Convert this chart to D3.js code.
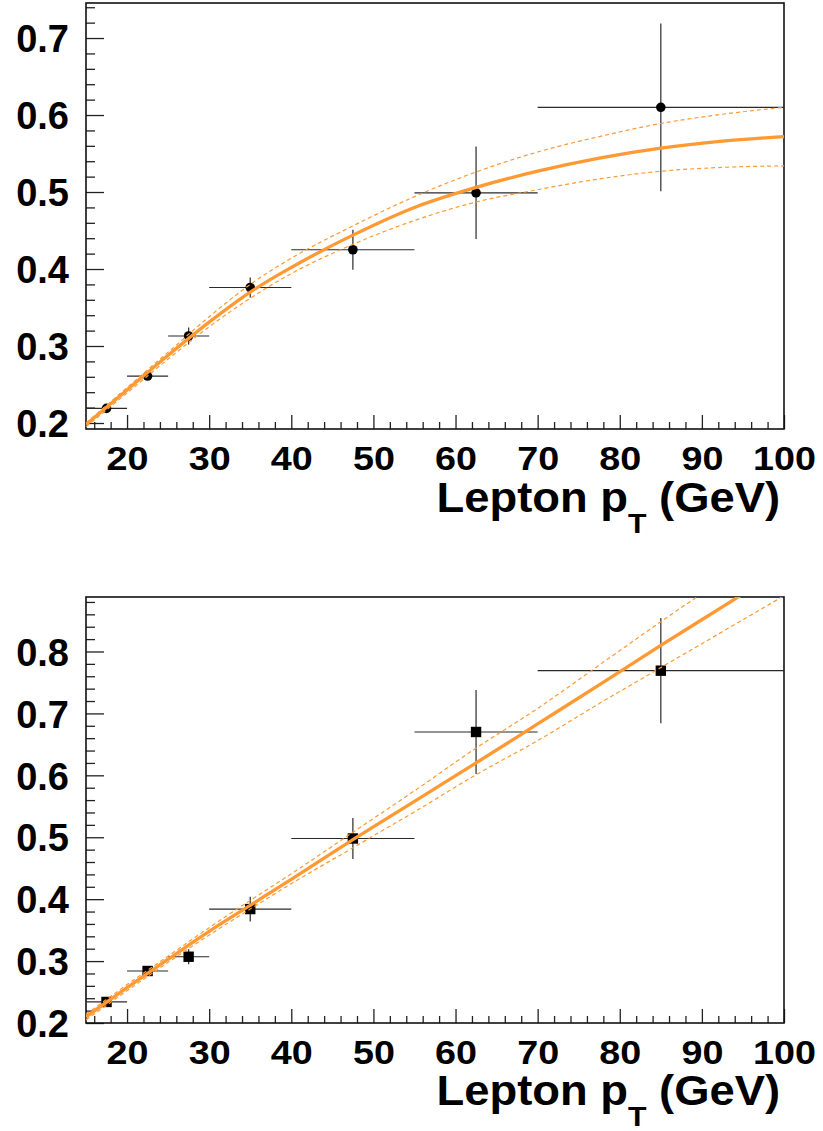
<!DOCTYPE html>
<html lang="en">
<head>
<meta charset="UTF-8">
<title>Lepton pT fits</title>
<script src="https://cdnjs.cloudflare.com/ajax/libs/d3/7.8.5/d3.min.js"></script>
<style>
  body { margin: 0; background: #fff; }
  svg { display: block; font-family: "Liberation Sans", Arial, sans-serif; font-weight: bold; }
</style>
</head>
<body>
<div id="chart"></div>
<script>
// bins in lepton pT (GeV)
const binLo = [15, 20, 25, 30, 40, 55, 70];
const binHi = [20, 25, 30, 40, 55, 70, 100];
const binCenter = [17.5, 22.5, 27.5, 35, 47.5, 62.5, 85];

// top panel (circles)
const topVals = [0.219, 0.261, 0.313, 0.376, 0.425, 0.499, 0.610];
const topErrs = [0.005, 0.005, 0.011, 0.013, 0.026, 0.060, 0.109];
// bottom panel (squares)
const botVals = [0.234, 0.284, 0.307, 0.384, 0.498, 0.670, 0.769];
const botErrs = [0.007, 0.007, 0.012, 0.020, 0.033, 0.068, 0.085];

// fit curves
const curveX = [15, 20, 25, 30, 35, 40, 47.5, 55, 62.5, 70, 77.5, 85, 92.5, 100];
const topFit   = [0.198, 0.243, 0.288, 0.331, 0.370, 0.402, 0.444, 0.480, 0.506, 0.527, 0.544, 0.557, 0.566, 0.572];
const topUpper = [0.200, 0.246, 0.292, 0.338, 0.380, 0.414, 0.456, 0.494, 0.526, 0.552, 0.572, 0.589, 0.601, 0.610];
const topLower = [0.195, 0.239, 0.283, 0.325, 0.362, 0.394, 0.432, 0.463, 0.487, 0.503, 0.517, 0.527, 0.532, 0.534];
const botFit   = [0.210, 0.257, 0.303, 0.348, 0.390, 0.432, 0.496, 0.558, 0.620, 0.683, 0.746, 0.810, 0.872, 0.935];
const botUpper = [0.214, 0.262, 0.308, 0.354, 0.398, 0.441, 0.508, 0.575, 0.644, 0.708, 0.778, 0.848, 0.916, 0.982];
const botLower = [0.205, 0.252, 0.298, 0.342, 0.384, 0.425, 0.483, 0.541, 0.601, 0.656, 0.716, 0.774, 0.832, 0.890];

const xMajor = [20, 30, 40, 50, 60, 70, 80, 90, 100];
const xMinor = [16, 18, 22, 24, 26, 28, 32, 34, 36, 38, 42, 44, 46, 48, 52, 54, 56, 58,
                62, 64, 66, 68, 72, 74, 76, 78, 82, 84, 86, 88, 92, 94, 96, 98];
const topYMajor = [0.2, 0.3, 0.4, 0.5, 0.6, 0.7];
const botYMajor = [0.2, 0.3, 0.4, 0.5, 0.6, 0.7, 0.8];

const W = 823, H = 1131;
const orange = "#ff9933";

const svg = d3.select("#chart").append("svg")
    .attr("width", W).attr("height", H);

function drawPanel(opt) {
    const left = 86, right = 784;
    const x = d3.scaleLinear().domain([15, 100]).range([left, right]);
    const y = d3.scaleLinear().domain(opt.yDomain).range([opt.bottom, opt.top]);
    const g = svg.append("g");

    const clipId = "clip" + opt.top;
    g.append("clipPath").attr("id", clipId)
      .append("rect").attr("x", left).attr("y", opt.top)
      .attr("width", right - left).attr("height", opt.bottom - opt.top);

    // y minor ticks every 0.02
    const yMinor = d3.range(Math.ceil(opt.yDomain[0] * 50), Math.floor(opt.yDomain[1] * 50) + 1)
        .map(k => k / 50).filter(v => Math.abs(v * 10 - Math.round(v * 10)) > 1e-6);

    g.append("g").attr("transform", `translate(${left},0)`)
      .call(d3.axisLeft(y).tickValues(yMinor).tickSize(-9).tickFormat(""))
      .call(a => a.select(".domain").remove())
      .selectAll("line").attr("stroke", "#222").attr("stroke-width", 1.3);

    const ya = g.append("g").attr("transform", `translate(${left},0)`)
      .call(d3.axisLeft(y).tickValues(opt.yMajor).tickSize(-18).tickPadding(17)
            .tickFormat(d3.format(".1f")))
      .call(a => a.select(".domain").remove());
    ya.selectAll("line").attr("stroke", "#222").attr("stroke-width", 1.3);
    ya.selectAll("text").attr("font-size", 38).attr("font-family", null)
      .attr("fill", "#000").attr("dy", "0.36em");

    // x ticks
    g.append("g").attr("transform", `translate(0,${opt.bottom})`)
      .call(d3.axisBottom(x).tickValues(xMinor).tickSize(-7).tickFormat(""))
      .call(a => a.select(".domain").remove())
      .selectAll("line").attr("stroke", "#222").attr("stroke-width", 1.3);

    const xa = g.append("g").attr("transform", `translate(0,${opt.bottom})`)
      .call(d3.axisBottom(x).tickValues(xMajor).tickSize(-14).tickPadding(17))
      .call(a => a.select(".domain").remove());
    xa.selectAll("line").attr("stroke", "#222").attr("stroke-width", 1.3);
    xa.selectAll("text").attr("font-size", 34).attr("font-family", null)
      .attr("fill", "#000").attr("transform", "scale(1.11,1)");

    // frame
    g.append("rect").attr("x", left).attr("y", opt.top)
      .attr("width", right - left).attr("height", opt.bottom - opt.top)
      .attr("fill", "none").attr("stroke", "#111").attr("stroke-width", 1.6);

    // error bars
    const pts = binCenter.map((c, i) => ({c, lo: binLo[i], hi: binHi[i], v: opt.vals[i], e: opt.errs[i]}));
    const eb = g.append("g").attr("clip-path", `url(#${clipId})`)
      .attr("stroke", "#2a2a2a").attr("stroke-width", 1.2);
    eb.selectAll(".h").data(pts).join("line")
      .attr("x1", d => x(d.lo)).attr("x2", d => x(d.hi))
      .attr("y1", d => y(d.v)).attr("y2", d => y(d.v));
    eb.selectAll(".v").data(pts).join("line")
      .attr("x1", d => x(d.c)).attr("x2", d => x(d.c))
      .attr("y1", d => y(d.v - d.e)).attr("y2", d => y(d.v + d.e));

    if (opt.marker === "circle") {
        g.append("g").selectAll("circle").data(pts).join("circle")
          .attr("cx", d => x(d.c)).attr("cy", d => y(d.v)).attr("r", 4.8).attr("fill", "#000");
    } else {
        g.append("g").selectAll("rect").data(pts).join("rect")
          .attr("x", d => x(d.c) - 5.2).attr("y", d => y(d.v) - 5.2)
          .attr("width", 10.4).attr("height", 10.4).attr("fill", "#000");
    }

    // fit curves
    const line = d3.line().x(d => x(d[0])).y(d => y(d[1])).curve(d3.curveMonotoneX);
    const cg = g.append("g").attr("clip-path", `url(#${clipId})`).attr("fill", "none");
    [opt.upper, opt.lower].forEach(arr => {
        cg.append("path").datum(curveX.map((cx, i) => [cx, arr[i]]))
          .attr("d", line).attr("stroke", orange).attr("stroke-width", 1.2)
          .attr("stroke-dasharray", "4,3");
    });
    cg.append("path").datum(curveX.map((cx, i) => [cx, opt.fit[i]]))
      .attr("d", line).attr("stroke", orange).attr("stroke-width", 3.3);

    // axis title
    const t = g.append("text")
      .attr("transform", `translate(780,${opt.titleY}) scale(1.08,1)`)
      .attr("text-anchor", "end").attr("font-size", 42).style("white-space", "pre");
    t.append("tspan").text("Lepton p");
    t.append("tspan").attr("font-size", 28).attr("dy", 21).text("T");
    t.append("tspan").attr("dy", -21).text(" (GeV)");
}

drawPanel({top: 3, bottom: 429, yDomain: [0.1922, 0.7455], yMajor: topYMajor,
           vals: topVals, errs: topErrs, marker: "circle",
           fit: topFit, upper: topUpper, lower: topLower, titleY: 511.5});
drawPanel({top: 597, bottom: 1023, yDomain: [0.2, 0.888], yMajor: botYMajor,
           vals: botVals, errs: botErrs, marker: "square",
           fit: botFit, upper: botUpper, lower: botLower, titleY: 1105});
</script>
</body>
</html>
